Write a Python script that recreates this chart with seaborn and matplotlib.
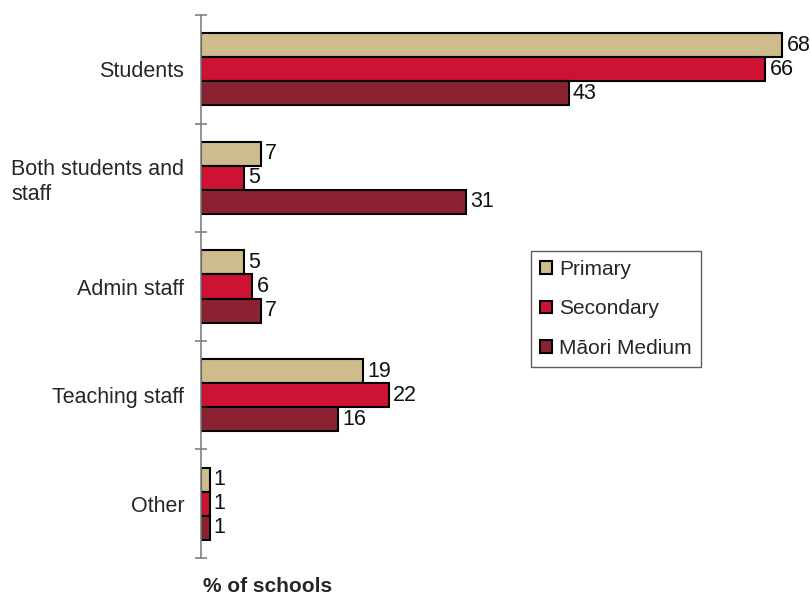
import matplotlib
matplotlib.use("Agg")
import matplotlib.pyplot as plt
import seaborn as sns
import pandas as pd
import numpy as np

categories = ["Students", "Both students and\nstaff", "Admin staff", "Teaching staff", "Other"]
series = ["Primary", "Secondary", "Māori Medium"]
primary = [68, 7, 5, 19, 1]
secondary = [66, 5, 6, 22, 1]
maori_medium = [43, 31, 7, 16, 1]
colors = ["#CFBC8D", "#CE1233", "#8B2232"]

rows = []
for name, vals in zip(series, [primary, secondary, maori_medium]):
    for cat, v in zip(categories, vals):
        rows.append({"category": cat, "school": name, "value": v})
df = pd.DataFrame(rows)

sns.set_style("white")
plt.rcParams["font.family"] = ["Liberation Sans", "DejaVu Sans"]

fig = plt.figure(figsize=(8.1, 5.97), dpi=100)
ax = fig.add_axes([201 / 810, 1 - 558 / 597, 598.5 / 810, 543 / 597])

sns.barplot(data=df, y="category", x="value", hue="school", order=categories,
            hue_order=series, palette=colors, orient="h", width=0.663,
            edgecolor="black", linewidth=1.5, saturation=1, ax=ax)

for cont in ax.containers:
    ax.bar_label(cont, padding=3, fontsize=15.5, color="#111111")

ax.set_xlim(0, 70)
ax.set_ylim(4.5, -0.5)
ax.set_xlabel("")
ax.set_ylabel("")
ax.set_xticks([])
for s in ["top", "right", "bottom"]:
    ax.spines[s].set_visible(False)
ax.spines["left"].set_color("#808080")
ax.spines["left"].set_linewidth(1.2)

ax.set_yticks(range(len(categories)))
ax.set_yticklabels(categories, fontsize=15.5, multialignment="left")
ax.tick_params(axis="y", which="major", left=True, length=0, pad=12)
ax.set_yticks(np.arange(-0.5, len(categories), 1.0), minor=True)
ax.tick_params(axis="y", which="minor", left=True, direction="inout", length=9,
               width=1.2, color="#808080")

leg = ax.legend(loc="upper left", bbox_to_anchor=(0.551, 0.566), fontsize=15,
                frameon=True, fancybox=False, edgecolor="#333333",
                handlelength=0.55, handleheight=0.55, handletextpad=0.35,
                labelspacing=0.98, borderpad=0.45, borderaxespad=0)
leg.get_frame().set_linewidth(1.0)
for h in leg.legend_handles:
    h.set_edgecolor("black")
    h.set_linewidth(1.5)

fig.text(268 / 810, 1 - 587 / 597, "% of schools", fontsize=15, fontweight="bold",
         ha="center", va="center")

fig.savefig("out.png", dpi=100)
